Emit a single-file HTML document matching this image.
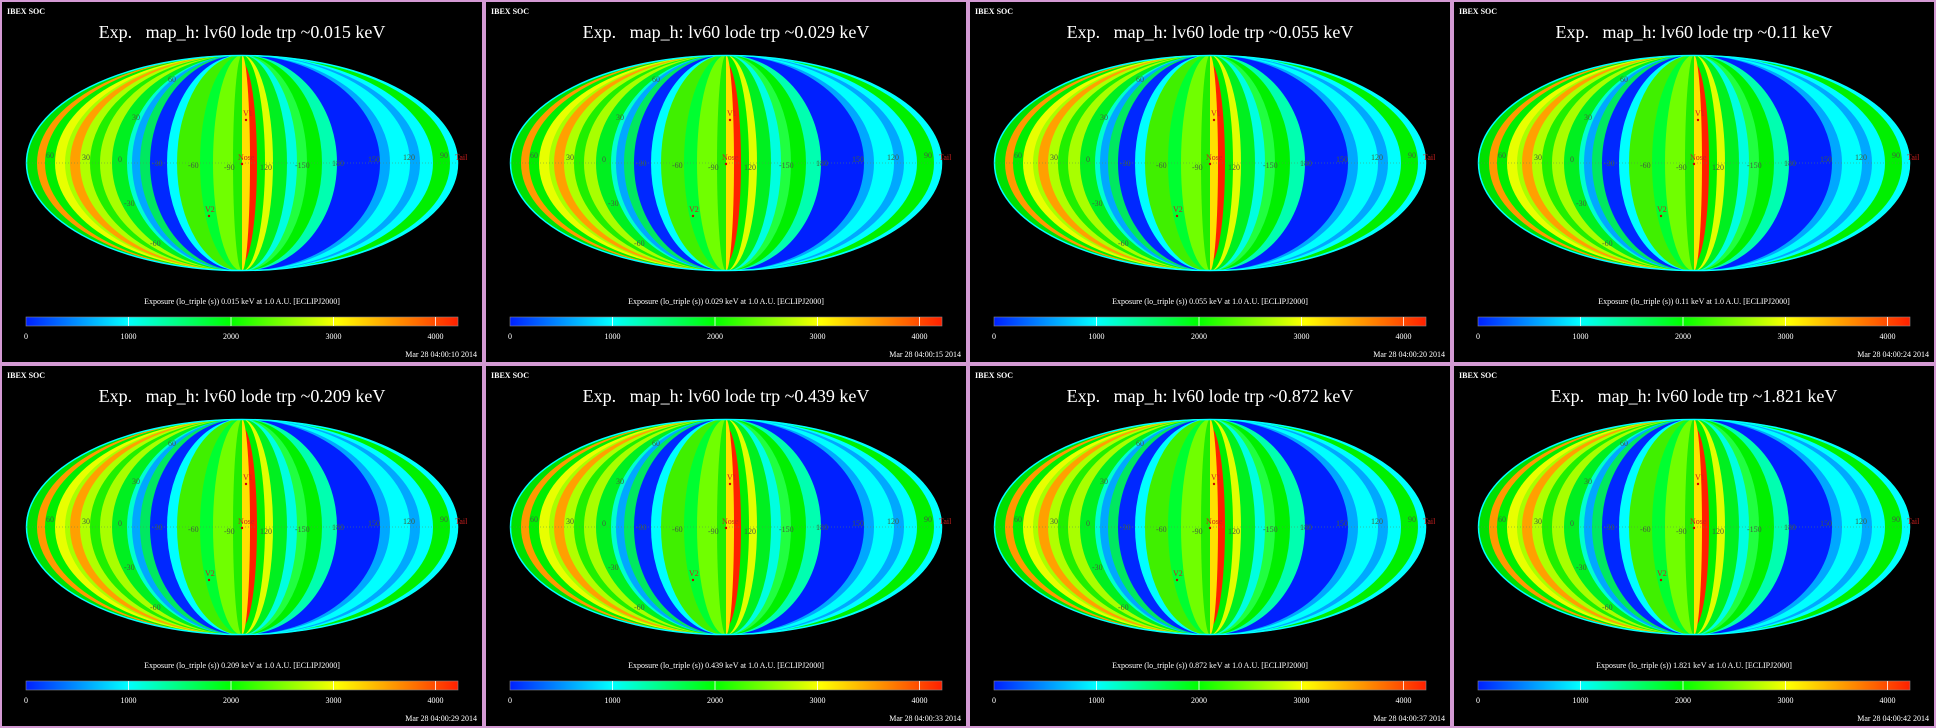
<!DOCTYPE html>
<html><head><meta charset="utf-8"><style>
html,body{margin:0;padding:0;background:#000;width:1936px;height:728px;overflow:hidden}
.p{position:absolute;width:480px;height:360px;border:2px solid #d49ad4;background:#000}
svg{display:block}
.t{font-family:"Liberation Serif",serif;font-size:18px;fill:#fff;white-space:pre}
</style></head><body>
<svg width="0" height="0" style="position:absolute">
<defs>
<clipPath id="cl"><rect x="0" y="0" width="242" height="364"/></clipPath>
<clipPath id="cr"><rect x="242" y="0" width="242" height="364"/></clipPath>
<linearGradient id="cb" x1="0" x2="1">
<stop offset="0" stop-color="#0020ff"/><stop offset="0.236" stop-color="#00ffff"/>
<stop offset="0.472" stop-color="#00ff00"/><stop offset="0.72" stop-color="#ffff00"/>
<stop offset="0.88" stop-color="#ff8000"/><stop offset="1" stop-color="#ff2000"/></linearGradient>
<g id="map">
<g clip-path="url(#cl)">
<ellipse cx="242" cy="163" rx="216" ry="108" fill="#00e000"/>
<ellipse cx="242" cy="163" rx="205" ry="108" fill="#ff9900"/>
<ellipse cx="242" cy="163" rx="197" ry="108" fill="#00ee00"/>
<ellipse cx="242" cy="163" rx="187" ry="108" fill="#e8ff00"/>
<ellipse cx="242" cy="163" rx="177" ry="108" fill="#a8ff00"/>
<ellipse cx="242" cy="163" rx="172" ry="108" fill="#ffa000"/>
<ellipse cx="242" cy="163" rx="162" ry="108" fill="#b0ff00"/>
<ellipse cx="242" cy="163" rx="152" ry="108" fill="#20f000"/>
<ellipse cx="242" cy="163" rx="142" ry="108" fill="#a8ff00"/>
<ellipse cx="242" cy="163" rx="130" ry="108" fill="#00f020"/>
<ellipse cx="242" cy="163" rx="115" ry="108" fill="#00ffd0"/>
<ellipse cx="242" cy="163" rx="110" ry="108" fill="#00a8ff"/>
<ellipse cx="242" cy="163" rx="102" ry="108" fill="#00e860"/>
<ellipse cx="242" cy="163" rx="92" ry="108" fill="#0028ff"/>
<ellipse cx="242" cy="163" rx="75" ry="108" fill="#00ffff"/>
<ellipse cx="242" cy="163" rx="65" ry="108" fill="#40f000"/>
<ellipse cx="242" cy="163" rx="42" ry="108" fill="#00ff30"/>
<ellipse cx="242" cy="163" rx="29" ry="108" fill="#70ff00"/>
<ellipse cx="242" cy="163" rx="9" ry="108" fill="#20ee00"/>
</g>
<g clip-path="url(#cr)">
<ellipse cx="242" cy="163" rx="216" ry="108" fill="#00ffff"/>
<ellipse cx="242" cy="163" rx="208" ry="108" fill="#00f000"/>
<ellipse cx="242" cy="163" rx="191" ry="108" fill="#00ffff"/>
<ellipse cx="242" cy="163" rx="178" ry="108" fill="#00a8ff"/>
<ellipse cx="242" cy="163" rx="168" ry="108" fill="#00ffff"/>
<ellipse cx="242" cy="163" rx="148" ry="108" fill="#00a8ff"/>
<ellipse cx="242" cy="163" rx="138" ry="108" fill="#0020ff"/>
<ellipse cx="242" cy="163" rx="95" ry="108" fill="#00ffb0"/>
<ellipse cx="242" cy="163" rx="80" ry="108" fill="#00f000"/>
<ellipse cx="242" cy="163" rx="65" ry="108" fill="#20ff40"/>
<ellipse cx="242" cy="163" rx="55" ry="108" fill="#00ffe0"/>
<ellipse cx="242" cy="163" rx="45" ry="108" fill="#00f020"/>
<ellipse cx="242" cy="163" rx="31" ry="108" fill="#e0ff00"/>
<ellipse cx="242" cy="163" rx="23" ry="108" fill="#00f000"/>
<ellipse cx="242" cy="163" rx="15" ry="100" fill="#ff2000"/>
<ellipse cx="242" cy="163" rx="8" ry="108" fill="#ffe000"/>
</g>
<ellipse cx="242" cy="163" rx="215.5" ry="107.5" fill="none" stroke="#00ffff" stroke-width="1.5"/>
<line x1="26" y1="163" x2="458" y2="163" stroke="#5a8a5a" stroke-width="0.6" stroke-dasharray="1,2"/>
<g font-family="Liberation Serif,serif" font-size="8" fill="#406040">
<text x="46" y="158">60</text><text x="82" y="160">30</text><text x="118" y="162">0</text>
<text x="152" y="166">-30</text><text x="188" y="168">-60</text><text x="224" y="170">-90</text>
<text x="260" y="170">120</text><text x="295" y="168">-150</text><text x="332" y="166">180</text>
<text x="368" y="162">150</text><text x="403" y="160">120</text><text x="440" y="158">90</text>
<text x="168" y="82">60</text><text x="132" y="120">30</text><text x="124" y="206">-30</text><text x="150" y="246">-60</text>
</g>
<g font-family="Liberation Serif,serif" font-size="8" fill="#cc2020">
<text x="238" y="160">Nose</text><text x="455" y="160">Tail</text>
<text x="243" y="116">V1</text><text x="205" y="212">V2</text></g>
<circle cx="246" cy="120" r="1.2" fill="#c00"/><circle cx="242" cy="164" r="1.2" fill="#c00"/><circle cx="209" cy="216" r="1.2" fill="#c00"/>
<rect x="26" y="317" width="432" height="9" fill="url(#cb)" stroke="#888" stroke-width="0.6"/>
<g stroke="#fff" stroke-width="0.8"><line x1="128.5" y1="317" x2="128.5" y2="326"/><line x1="231" y1="317" x2="231" y2="326"/><line x1="333.5" y1="317" x2="333.5" y2="326"/><line x1="435.5" y1="317" x2="435.5" y2="326"/></g>
<g font-family="Liberation Serif,serif" font-size="8" fill="#fff" text-anchor="middle">
<text x="26" y="339">0</text><text x="128.5" y="339">1000</text><text x="231" y="339">2000</text><text x="333.5" y="339">3000</text><text x="435.5" y="339">4000</text></g>
<text x="7" y="14" font-family="Liberation Serif,serif" font-size="8" font-weight="bold" fill="#fff">IBEX SOC</text>
</g>
</defs></svg>

<div class="p" style="left:0;top:0"><svg width="480" height="360" viewBox="2 2 480 360"><use href="#map"/>
<text class="t" x="242" y="38" text-anchor="middle">Exp.&#160;&#160;&#160;map_h: lv60 lode trp ~0.015 keV</text>
<text x="242" y="304" font-family="Liberation Serif,serif" font-size="8" fill="#fff" text-anchor="middle">Exposure (lo_triple (s))  0.015 keV at 1.0 A.U. [ECLIPJ2000]</text>
<text x="477" y="357" font-family="Liberation Serif,serif" font-size="8" fill="#fff" text-anchor="end">Mar 28 04:00:10 2014</text></svg></div>

<div class="p" style="left:484px;top:0"><svg width="480" height="360" viewBox="2 2 480 360"><use href="#map"/>
<text class="t" x="242" y="38" text-anchor="middle">Exp.&#160;&#160;&#160;map_h: lv60 lode trp ~0.029 keV</text>
<text x="242" y="304" font-family="Liberation Serif,serif" font-size="8" fill="#fff" text-anchor="middle">Exposure (lo_triple (s))  0.029 keV at 1.0 A.U. [ECLIPJ2000]</text>
<text x="477" y="357" font-family="Liberation Serif,serif" font-size="8" fill="#fff" text-anchor="end">Mar 28 04:00:15 2014</text></svg></div>

<div class="p" style="left:968px;top:0"><svg width="480" height="360" viewBox="2 2 480 360"><use href="#map"/>
<text class="t" x="242" y="38" text-anchor="middle">Exp.&#160;&#160;&#160;map_h: lv60 lode trp ~0.055 keV</text>
<text x="242" y="304" font-family="Liberation Serif,serif" font-size="8" fill="#fff" text-anchor="middle">Exposure (lo_triple (s))  0.055 keV at 1.0 A.U. [ECLIPJ2000]</text>
<text x="477" y="357" font-family="Liberation Serif,serif" font-size="8" fill="#fff" text-anchor="end">Mar 28 04:00:20 2014</text></svg></div>

<div class="p" style="left:1452px;top:0"><svg width="480" height="360" viewBox="2 2 480 360"><use href="#map"/>
<text class="t" x="242" y="38" text-anchor="middle">Exp.&#160;&#160;&#160;map_h: lv60 lode trp ~0.11 keV</text>
<text x="242" y="304" font-family="Liberation Serif,serif" font-size="8" fill="#fff" text-anchor="middle">Exposure (lo_triple (s))  0.11 keV at 1.0 A.U. [ECLIPJ2000]</text>
<text x="477" y="357" font-family="Liberation Serif,serif" font-size="8" fill="#fff" text-anchor="end">Mar 28 04:00:24 2014</text></svg></div>

<div class="p" style="left:0;top:364px"><svg width="480" height="360" viewBox="2 2 480 360"><use href="#map"/>
<text class="t" x="242" y="38" text-anchor="middle">Exp.&#160;&#160;&#160;map_h: lv60 lode trp ~0.209 keV</text>
<text x="242" y="304" font-family="Liberation Serif,serif" font-size="8" fill="#fff" text-anchor="middle">Exposure (lo_triple (s))  0.209 keV at 1.0 A.U. [ECLIPJ2000]</text>
<text x="477" y="357" font-family="Liberation Serif,serif" font-size="8" fill="#fff" text-anchor="end">Mar 28 04:00:29 2014</text></svg></div>

<div class="p" style="left:484px;top:364px"><svg width="480" height="360" viewBox="2 2 480 360"><use href="#map"/>
<text class="t" x="242" y="38" text-anchor="middle">Exp.&#160;&#160;&#160;map_h: lv60 lode trp ~0.439 keV</text>
<text x="242" y="304" font-family="Liberation Serif,serif" font-size="8" fill="#fff" text-anchor="middle">Exposure (lo_triple (s))  0.439 keV at 1.0 A.U. [ECLIPJ2000]</text>
<text x="477" y="357" font-family="Liberation Serif,serif" font-size="8" fill="#fff" text-anchor="end">Mar 28 04:00:33 2014</text></svg></div>

<div class="p" style="left:968px;top:364px"><svg width="480" height="360" viewBox="2 2 480 360"><use href="#map"/>
<text class="t" x="242" y="38" text-anchor="middle">Exp.&#160;&#160;&#160;map_h: lv60 lode trp ~0.872 keV</text>
<text x="242" y="304" font-family="Liberation Serif,serif" font-size="8" fill="#fff" text-anchor="middle">Exposure (lo_triple (s))  0.872 keV at 1.0 A.U. [ECLIPJ2000]</text>
<text x="477" y="357" font-family="Liberation Serif,serif" font-size="8" fill="#fff" text-anchor="end">Mar 28 04:00:37 2014</text></svg></div>

<div class="p" style="left:1452px;top:364px"><svg width="480" height="360" viewBox="2 2 480 360"><use href="#map"/>
<text class="t" x="242" y="38" text-anchor="middle">Exp.&#160;&#160;&#160;map_h: lv60 lode trp ~1.821 keV</text>
<text x="242" y="304" font-family="Liberation Serif,serif" font-size="8" fill="#fff" text-anchor="middle">Exposure (lo_triple (s))  1.821 keV at 1.0 A.U. [ECLIPJ2000]</text>
<text x="477" y="357" font-family="Liberation Serif,serif" font-size="8" fill="#fff" text-anchor="end">Mar 28 04:00:42 2014</text></svg></div>
</body></html>
